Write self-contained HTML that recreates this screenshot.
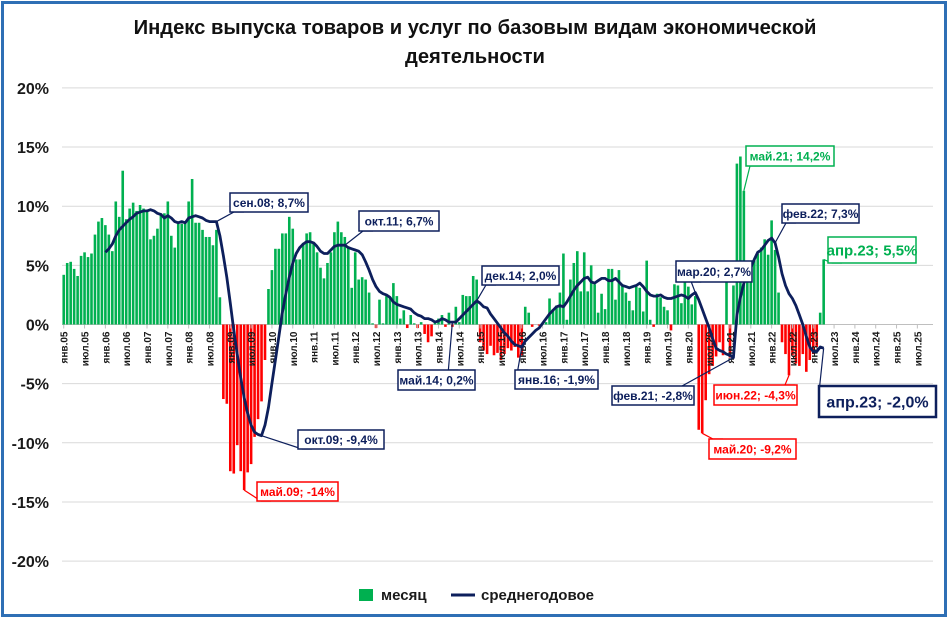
<!DOCTYPE html>
<html><head><meta charset="utf-8">
<style>
html,body{margin:0;padding:0;background:#fff;}
#wrap{position:relative;width:950px;height:620px;overflow:hidden;}
svg{font-family:"Liberation Sans",sans-serif;}
</style></head>
<body>
<div id="wrap">
<svg id="chart" width="950" height="620" viewBox="0 0 950 620">
  <rect x="2.5" y="2.5" width="943" height="613" fill="#fff" stroke="#2e6fb5" stroke-width="3"/>
  <text x="475" y="34" text-anchor="middle" font-size="20.2" font-weight="bold" fill="#111">Индекс выпуска товаров и услуг по базовым видам экономической</text>
  <text x="475" y="63" text-anchor="middle" font-size="20.2" font-weight="bold" fill="#111">деятельности</text>
  <g id="grid"></g>
  <g id="yaxis"></g>
  <g id="bars"></g>
  <g id="xaxis"></g>
  <g id="line"></g>
  <g id="callouts"></g>
  <g>
    <rect x="359" y="589" width="14" height="12" fill="#00b050"/>
    <text x="381" y="600" font-size="15" font-weight="bold" fill="#1a1a1a">месяц</text>
    <line x1="451" y1="595" x2="475" y2="595" stroke="#0d1f5c" stroke-width="3"/>
    <text x="481" y="600" font-size="15" font-weight="bold" fill="#1a1a1a">среднегодовое</text>
  </g>
</svg>
</div>
<script>
const yTicks = [20, 15, 10, 5, 0, -5, -10, -15, -20];
const xLabelsMonths = ["янв", "июл"];
const barStartYear = 2005;
const monthly = [
 4.2,5.2,5.3,4.7,4.1,5.8,6.1,5.7,6.0,7.6,8.7,9.0,
 8.4,7.6,6.2,10.4,9.1,13.0,8.9,9.8,10.3,9.6,10.1,9.8,
 9.6,7.2,7.5,8.1,9.4,9.4,10.4,7.5,6.5,8.5,8.5,8.6,
 10.4,12.3,8.6,8.6,8.0,7.4,7.4,6.7,8.0,2.3,-6.3,-6.7,
 -12.4,-12.6,-10.2,-12.4,-14.0,-12.5,-11.8,-9.5,-8.0,-6.5,-3.0,3.0,
 4.6,6.4,6.4,7.7,7.7,9.1,8.1,5.5,5.5,6.9,7.7,7.8,
 6.9,6.1,4.8,3.9,5.2,6.1,7.8,8.7,7.8,7.4,6.6,3.1,
 6.1,3.8,4.0,3.8,2.7,0.1,-0.3,2.1,0.1,2.4,2.3,3.5,
 2.4,0.5,1.2,-0.3,0.8,0.1,-0.3,0.2,-0.8,-1.5,-1.0,0.3,
 0.5,0.8,-0.2,1.0,-0.2,1.5,0.2,2.5,2.4,2.4,4.1,3.8,
 -1.5,-2.2,-2.5,-1.8,-2.6,-2.4,-3.0,-2.5,-2.0,-2.2,-1.9,-2.8,
 -2.6,1.5,1.0,-0.2,0.0,-0.1,0.1,0.2,2.2,1.3,1.6,2.7,
 6.0,0.4,3.8,5.2,6.2,2.8,6.1,2.8,5.0,3.4,1.0,2.6,
 1.3,4.7,4.7,2.1,4.6,3.3,2.7,2.0,1.2,3.2,3.1,1.1,
 5.4,0.4,-0.2,2.6,2.3,1.5,1.2,-0.5,3.4,3.3,1.8,4.5,
 3.2,1.7,2.4,-8.9,-9.2,-6.4,-4.2,-3.5,-2.7,-1.5,-2.6,3.6,
 -2.8,3.3,13.6,14.2,11.3,3.8,5.0,5.4,6.0,6.5,7.2,5.9,
 8.8,6.3,2.7,-1.5,-2.5,-4.3,-2.6,-3.3,-3.5,-2.5,-4.0,-3.0,
 -2.5,-1.9,1.0,5.5
];
const lineStartIndex = 12;
const annualAvg = [
 6.1,6.4,6.8,7.5,8.0,8.3,8.6,8.9,9.1,9.4,9.5,9.6,
 9.6,9.7,9.6,9.4,9.3,9.0,9.2,9.0,8.7,8.6,8.7,8.6,
 9.0,9.1,9.2,9.1,9.0,8.8,8.7,8.7,8.7,7.5,5.8,4.0,
 1.8,-0.5,-2.5,-4.5,-6.2,-7.5,-8.5,-9.1,-9.3,-9.4,-8.5,-7.0,
 -5.0,-3.0,-1.0,1.0,2.6,4.0,5.2,6.0,6.5,6.8,7.0,7.0,
 6.9,6.6,6.2,6.0,6.0,6.3,6.6,6.7,6.7,6.7,6.5,6.4,
 6.3,6.2,5.9,5.3,4.6,3.8,3.2,2.8,2.6,2.5,2.3,1.9,
 1.7,1.6,1.5,1.4,1.3,1.0,0.8,0.7,0.5,0.5,0.4,0.2,
 0.3,0.5,0.4,0.2,0.2,0.2,0.5,0.8,1.1,1.4,1.7,2.0,
 1.8,1.5,1.4,0.9,0.5,0.1,-0.3,-0.7,-1.0,-1.4,-1.7,-1.8,
 -1.9,-1.4,-1.1,-0.8,-0.5,-0.3,0.1,0.5,0.9,1.2,1.5,1.6,
 1.5,1.9,2.4,2.9,3.3,3.6,3.9,4.0,3.6,3.5,3.7,3.9,
 3.9,3.7,3.7,3.9,3.6,3.3,3.2,3.1,3.2,3.3,3.5,3.2,
 2.8,2.5,2.4,2.4,2.5,2.3,2.2,2.2,2.3,2.4,2.5,2.4,
 2.2,2.5,2.7,2.1,1.3,0.5,-0.3,-1.2,-2.0,-2.2,-2.3,-2.5,
 -2.6,-2.8,0.8,2.3,3.5,4.2,4.8,5.5,6.1,6.3,6.7,7.1,
 7.3,6.9,5.7,4.3,3.3,2.6,2.2,1.6,0.8,0.0,-1.0,-1.9,
 -2.3,-2.3,-1.9,-2.0
];
const calloutLabels = ["сен.08; 8,7%","окт.11; 6,7%","окт.09; -9,4%","май.09; -14%","май.14; 0,2%","дек.14; 2,0%","янв.16; -1,9%","мар.20; 2,7%","фев.21; -2,8%","июн.22; -4,3%","май.20; -9,2%","май.21; 14,2%","фев.22; 7,3%","апр.23; 5,5%","апр.23; -2,0%"];
const calloutMonth = [44,81,57,52,112,119,132,182,193,209,184,196,205,219,219];
const calloutSeries = ["l","l","l","b","l","l","l","l","l","b","b","b","l","b","l"];

const svgNS = "http://www.w3.org/2000/svg";
const X0 = 62, MW = 3.47, Y0 = 324.5, PY = 11.83, XR = 933;
function xScale(i){ return X0 + (i + 0.5) * MW; }
function yScale(v){ return Y0 - v * PY; }
function mk(tag, attrs, parent){ const e = document.createElementNS(svgNS, tag); for (const k in attrs) e.setAttribute(k, attrs[k]); parent.appendChild(e); return e; }

const grid = document.getElementById('grid');
const yaxis = document.getElementById('yaxis');
yTicks.forEach(t => {
  const gl = mk('line', {x1: X0, x2: XR, y1: yScale(t), y2: yScale(t), stroke: t === 0 ? '#bfbfbf' : '#d9d9d9', 'stroke-width': 1}, grid);
  
  
  const tl = mk('text', {x: 49, y: yScale(t) + 6, 'text-anchor': 'end', 'font-size': 16, 'font-weight': 'bold', fill: '#1a1a1a'}, yaxis);
  tl.textContent = t + '%';
  
  
});

const bars = document.getElementById('bars');
monthly.forEach((v, i) => {
  const x = xScale(i) - 1.3;
  const y = v >= 0 ? yScale(v) : Y0;
  const r = mk('rect', {x: x, y: y, width: 2.6, height: Math.abs(v) * PY, fill: v >= 0 ? '#00b050' : '#ff0000'}, bars);
  
  
});

const xaxis = document.getElementById('xaxis');
for (let m = 0; m < 252; m += 6) {
  const yr = String((barStartYear + Math.floor(m / 12)) % 100).padStart(2, '0');
  const lbl = xLabelsMonths[(m % 12) / 6] + '.' + yr;
  const xx = xScale(m);
  const tk = mk('line', {x1: xx, x2: xx, y1: Y0, y2: Y0 + 4, stroke: '#bfbfbf'}, xaxis);
  
  
  const t = mk('text', {x: xx + 4, y: Y0 + 7, 'text-anchor': 'end', 'font-size': 10, 'font-weight': 'bold', fill: '#1a1a1a', transform: `rotate(-90 ${xx + 4} ${Y0 + 7})`}, xaxis);
  t.textContent = lbl;
  
  
}

const lineG = document.getElementById('line');
const pts = annualAvg.map((v, k) => xScale(lineStartIndex + k).toFixed(1) + ',' + yScale(v).toFixed(1)).join(' ');
const pl = mk('polyline', {points: pts, fill: 'none', stroke: '#0d1f5c', 'stroke-width': 2.8, 'stroke-linejoin': 'round'}, lineG);



const boxes = [
 [230,193,78,19,'#0d1f5c',12],[359,211,80,20,'#0d1f5c',12],[298,430,86,19,'#0d1f5c',12],
 [257,482,81,19,'#ff0000',12],[398,370,77,20,'#0d1f5c',12],[482,266,77,19,'#0d1f5c',12],
 [515,370,83,19,'#0d1f5c',12],[676,261,76,21,'#0d1f5c',12],[612,386,82,19,'#0d1f5c',12],
 [714,385,83,20,'#ff0000',12],[709,439,87,20,'#ff0000',12],[746,146,88,20,'#00b050',12],
 [782,204,77,19,'#0d1f5c',12],[828,237,88,26,'#00b050',15],[819,386,117,31,'#0d1f5c',16]
];
const callG = document.getElementById('callouts');
calloutLabels.forEach((lab, k) => {
  const b = boxes[k];
  const i = calloutMonth[k];
  const px = xScale(i);
  const val = calloutSeries[k] === 'l' ? annualAvg[i - lineStartIndex] : monthly[i];
  const py = yScale(val);
  const bx = px < b[0] ? b[0] + 8 : (px > b[0] + b[2] ? b[0] + b[2] - 8 : px);
  const by = py < b[1] ? b[1] : b[1] + b[3];
  const ln = mk('polyline', {points: `${px},${py} ${bx - 4},${by} ${bx + 6},${by}`, fill: 'none', stroke: b[4], 'stroke-width': 1.2}, callG);
  
  
  const r = mk('rect', {x: b[0], y: b[1], width: b[2], height: b[3], fill: '#fff', stroke: b[4], 'stroke-width': k === 14 ? 2.5 : 1.5}, callG);
  
  
  const t = mk('text', {x: b[0] + b[2] / 2, y: b[1] + b[3] / 2 + b[5] * 0.36, 'text-anchor': 'middle', 'font-size': b[5], 'font-weight': 'bold', fill: b[4]}, callG);
  t.textContent = lab;
  
  
});
</script>
</body></html>
